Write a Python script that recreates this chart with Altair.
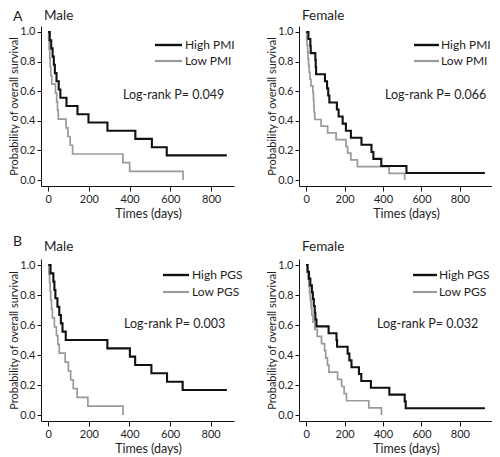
import altair as alt
import pandas as pd

# ---------------- data ----------------
X_TICKS = [0, 200, 400, 600, 800]
Y_TICKS = [0.0, 0.2, 0.4, 0.6, 0.8, 1.0]

# A, Male (PMI)
AM_HIGH_T = [0, 8, 15, 22, 28, 33, 41, 52, 60, 90, 144, 198, 291, 428, 509, 582, 877]
AM_HIGH_S = [1.0, 0.944, 0.889, 0.833, 0.778, 0.722, 0.667, 0.611, 0.556, 0.5, 0.444, 0.389, 0.333, 0.278, 0.222, 0.167, 0.167]
AM_LOW_T = [0, 3, 5, 8, 10, 13, 18, 36, 42, 46, 50, 88, 97, 108, 120, 367, 400, 662]
AM_LOW_S = [1.0, 0.941, 0.882, 0.824, 0.765, 0.706, 0.647, 0.588, 0.529, 0.471, 0.412, 0.353, 0.294, 0.235, 0.176, 0.118, 0.059, 0.0]

# A, Female (PMI)
AF_HIGH_T = [0, 12, 22, 24, 48, 50, 52, 98, 109, 115, 121, 160, 169, 190, 207, 233, 288, 340, 350, 391, 522, 930]
AF_HIGH_S = [1.0, 0.952, 0.905, 0.857, 0.810, 0.762, 0.714, 0.667, 0.619, 0.571, 0.524, 0.476, 0.429, 0.381, 0.333, 0.286, 0.238, 0.190, 0.143, 0.095, 0.048, 0.048]
AF_LOW_T = [0, 3, 5, 8, 10, 13, 16, 20, 25, 35, 38, 40, 42, 45, 78, 112, 156, 207, 216, 233, 267, 432, 513]
AF_LOW_S = [1.0, 0.955, 0.909, 0.864, 0.818, 0.773, 0.727, 0.682, 0.636, 0.591, 0.545, 0.5, 0.455, 0.409, 0.364, 0.318, 0.273, 0.227, 0.182, 0.136, 0.091, 0.045, 0.0]

# B, Male (PGS)
BM_HIGH_T = [0, 11, 25, 30, 35, 45, 54, 62, 70, 86, 291, 402, 428, 508, 585, 662, 880]
BM_HIGH_S = [1.0, 0.944, 0.889, 0.833, 0.778, 0.722, 0.667, 0.611, 0.556, 0.5, 0.444, 0.389, 0.333, 0.278, 0.222, 0.167, 0.167]
BM_LOW_T = [0, 3, 6, 9, 12, 16, 20, 30, 40, 47, 54, 83, 99, 110, 123, 142, 195, 368]
BM_LOW_S = [1.0, 0.941, 0.882, 0.824, 0.765, 0.706, 0.647, 0.588, 0.529, 0.471, 0.412, 0.353, 0.294, 0.235, 0.176, 0.118, 0.059, 0.0]

# B, Female (PGS)
BF_HIGH_T = [0, 8, 15, 22, 30, 35, 40, 45, 48, 54, 117, 158, 161, 216, 225, 236, 275, 287, 337, 433, 513, 518, 930]
BF_HIGH_S = [1.0, 0.955, 0.909, 0.864, 0.818, 0.773, 0.727, 0.682, 0.636, 0.591, 0.545, 0.5, 0.455, 0.409, 0.364, 0.318, 0.273, 0.227, 0.182, 0.136, 0.091, 0.045, 0.045]
BF_LOW_T = [0, 5, 10, 14, 18, 22, 26, 30, 36, 45, 58, 80, 96, 102, 111, 119, 164, 185, 198, 210, 326, 392]
BF_LOW_S = [1.0, 0.952, 0.905, 0.857, 0.810, 0.762, 0.714, 0.667, 0.619, 0.571, 0.524, 0.476, 0.429, 0.381, 0.333, 0.286, 0.238, 0.190, 0.143, 0.095, 0.048, 0.0]

PANEL_TITLES = ["Male", "Female", "Male", "Female"]
PANEL_LETTERS = ["A", "", "B", ""]
HIGH_LABELS = ["High PMI", "High PMI", "High PGS", "High PGS"]
LOW_LABELS = ["Low PMI", "Low PMI", "Low PGS", "Low PGS"]
P_TEXTS = ["Log-rank P= 0.049", "Log-rank P= 0.066", "Log-rank P= 0.003", "Log-rank P= 0.032"]
X_DOMAINS = [[-35, 912], [-37, 967], [-36, 915], [-37, 967]]

# ---------------- style ----------------
FONT = "Lato"
BLACK = "#111111"
GRAY = "#9a9a9a"
TXT = "#1e1e1e"
W = 193


def panel(i, hi_t, hi_s, lo_t, lo_s, h, leg, ptxt_pos, letter_y, title_y):
    xenc = alt.X(
        "t:Q",
        scale=alt.Scale(domain=X_DOMAINS[i], nice=False, zero=False),
        axis=alt.Axis(values=X_TICKS, title="Times (days)", titleX=107, titleY=27,
                      titleBaseline="middle", titleFontSize=12.5, tickSize=5,
                      labelOverlap=False, labelFlush=False),
    )
    yenc = alt.Y(
        "s:Q",
        scale=alt.Scale(domain=[-0.04, 1.04], nice=False, zero=False),
        axis=alt.Axis(values=Y_TICKS, format=".1f", title="Probability of overall survival",
                      titleFontSize=11, titlePadding=0, tickSize=4,
                      labelAngle=0, labelPadding=2),
    )
    low = alt.Chart(pd.DataFrame({"t": lo_t, "s": lo_s})).mark_line(
        interpolate="step-after", color=GRAY, strokeWidth=1.7
    ).encode(x=xenc, y=yenc)
    high = alt.Chart(pd.DataFrame({"t": hi_t, "s": hi_s})).mark_line(
        interpolate="step-after", color=BLACK, strokeWidth=2.1
    ).encode(x=xenc, y=yenc)

    one = pd.DataFrame({"k": [0]})
    lx0, lx1, ltx, ly1, ly2 = leg
    rule_hi = alt.Chart(one).mark_rule(color=BLACK, strokeWidth=2.4).encode(
        x=alt.value(lx0), x2=alt.value(lx1), y=alt.value(ly1))
    rule_lo = alt.Chart(one).mark_rule(color=GRAY, strokeWidth=2.2).encode(
        x=alt.value(lx0), x2=alt.value(lx1), y=alt.value(ly2))
    txt_hi = alt.Chart(one).mark_text(align="left", baseline="middle", font=FONT, fontSize=12,
                                      color=TXT).encode(
        x=alt.value(ltx), y=alt.value(ly1), text=alt.value(HIGH_LABELS[i]))
    txt_lo = alt.Chart(one).mark_text(align="left", baseline="middle", font=FONT, fontSize=12,
                                      color=TXT).encode(
        x=alt.value(ltx), y=alt.value(ly2), text=alt.value(LOW_LABELS[i]))
    ptxt = alt.Chart(one).mark_text(align="left", baseline="middle", font=FONT, fontSize=12.5,
                                    color=TXT).encode(
        x=alt.value(ptxt_pos[0]), y=alt.value(ptxt_pos[1]), text=alt.value(P_TEXTS[i]))
    title = alt.Chart(one).mark_text(align="left", baseline="alphabetic", font=FONT,
                                     fontSize=13.5, color=TXT).encode(
        x=alt.value(3), y=alt.value(title_y), text=alt.value(PANEL_TITLES[i]))
    layers = [low, high, rule_hi, rule_lo, txt_hi, txt_lo, ptxt, title]
    if PANEL_LETTERS[i]:
        letter = alt.Chart(one).mark_text(align="left", baseline="alphabetic", font=FONT,
                                          fontSize=14, color=TXT).encode(
            x=alt.value(-28), y=alt.value(letter_y), text=alt.value(PANEL_LETTERS[i]))
        layers.append(letter)
    return alt.layer(*layers).properties(width=W, height=h)


p1 = panel(0, AM_HIGH_T, AM_HIGH_S, AM_LOW_T, AM_LOW_S, 160,
           (114, 141, 144, 19, 35), (82, 69), -5.5, -6.5)
p2 = panel(1, AF_HIGH_T, AF_HIGH_S, AF_LOW_T, AF_LOW_S, 160,
           (115, 140, 142, 19, 35), (86, 69), -5.5, -6.5)
p3 = panel(2, BM_HIGH_T, BM_HIGH_S, BM_LOW_T, BM_LOW_S, 162,
           (122, 148, 151, 16, 33), (83, 65), -13, -8.5)
p4 = panel(3, BF_HIGH_T, BF_HIGH_S, BF_LOW_T, BF_LOW_S, 162,
           (114, 138, 140, 16, 33), (78, 65), -13, -8.5)

chart = alt.concat(
    p1, p2, p3, p4, columns=2, spacing={"row": 73, "column": 65}, bounds="flush"
).resolve_scale(
    x="independent", y="independent"
).properties(
    padding={"left": 0, "top": 0, "right": 0, "bottom": 0}
).configure_view(
    stroke=None
).configure_axis(
    grid=False,
    domainColor=BLACK,
    domainWidth=1,
    tickColor=BLACK,
    tickWidth=1,
    labelFont=FONT,
    labelFontSize=11,
    labelColor=TXT,
    labelPadding=2,
    titleFont=FONT,
    titleFontWeight="normal",
    titleColor=TXT,
)

chart.save("out.html", embed_options={"renderer": "svg", "actions": False})
